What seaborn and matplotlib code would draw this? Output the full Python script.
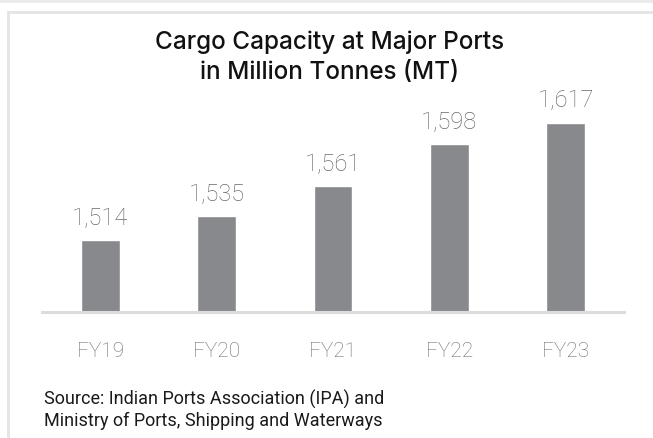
import matplotlib
matplotlib.use("Agg")
import matplotlib.pyplot as plt
import seaborn as sns
import pandas as pd
from matplotlib.patches import Rectangle

# chart data
years = ["FY19", "FY20", "FY21", "FY22", "FY23"]
capacity_mt = [1514, 1535, 1561, 1598, 1617]

title = "Cargo Capacity at Major Ports\nin Million Tonnes (MT)"
source = "Source: Indian Ports Association (IPA) and\nMinistry of Ports, Shipping and Waterways"

sns.set_style("white")
plt.rcParams["font.family"] = ["Roboto", "DejaVu Sans"]

W, H = 653, 439
fig = plt.figure(figsize=(W / 100, H / 100), dpi=100)
fig.patch.set_facecolor("white")

# card frame
fig.patches.append(Rectangle((0, 1 - 4 / H), 1, 4 / H, transform=fig.transFigure,
                             facecolor="#ebebeb", edgecolor="none"))
fig.patches.append(Rectangle((7.5 / W, -0.1), 1.2, 1 - 12.5 / H + 0.1,
                             transform=fig.transFigure, facecolor="none",
                             edgecolor="#e4e4e4", linewidth=2))

ax = fig.add_axes([42 / W, (H - 312.7) / H, 582 / W, 215.3 / H])
df = pd.DataFrame({"Year": years, "Capacity": capacity_mt})
sns.barplot(data=df, x="Year", y="Capacity", color="#88898c", saturation=1,
            width=0.335, ax=ax)

ax.set_ylim(1451, 1640)
ax.set_xlim(-0.5, 4.5)
ax.set_xlabel("")
ax.set_ylabel("")
ax.set_yticks([])
sns.despine(ax=ax, left=True)
ax.spines["bottom"].set_color("#dcdcdc")
ax.spines["bottom"].set_linewidth(2.2)
ax.tick_params(axis="x", length=0, pad=21, labelsize=15, labelcolor="#6e6e6e")
for lbl in ax.get_xticklabels():
    lbl.set_fontweight("light")

# value labels
for i, v in enumerate(capacity_mt):
    ax.annotate(f"{v:,}", (i, v), xytext=(0, 16), textcoords="offset pixels",
                ha="center", va="baseline", fontsize=17, color="#6a6a6a",
                fontweight="light")

fig.text(330 / W, 1 - 57 / H, title, ha="center", va="center", fontsize=17.5,
         fontweight="medium", color="#111111", linespacing=1.38,
         family=["Inter", "DejaVu Sans"])
fig.text(44 / W, 1 - 390 / H, source, ha="left", va="top", fontsize=13,
         color="#1a1a1a", linespacing=1.22)

fig.savefig("out.png", dpi=100)
